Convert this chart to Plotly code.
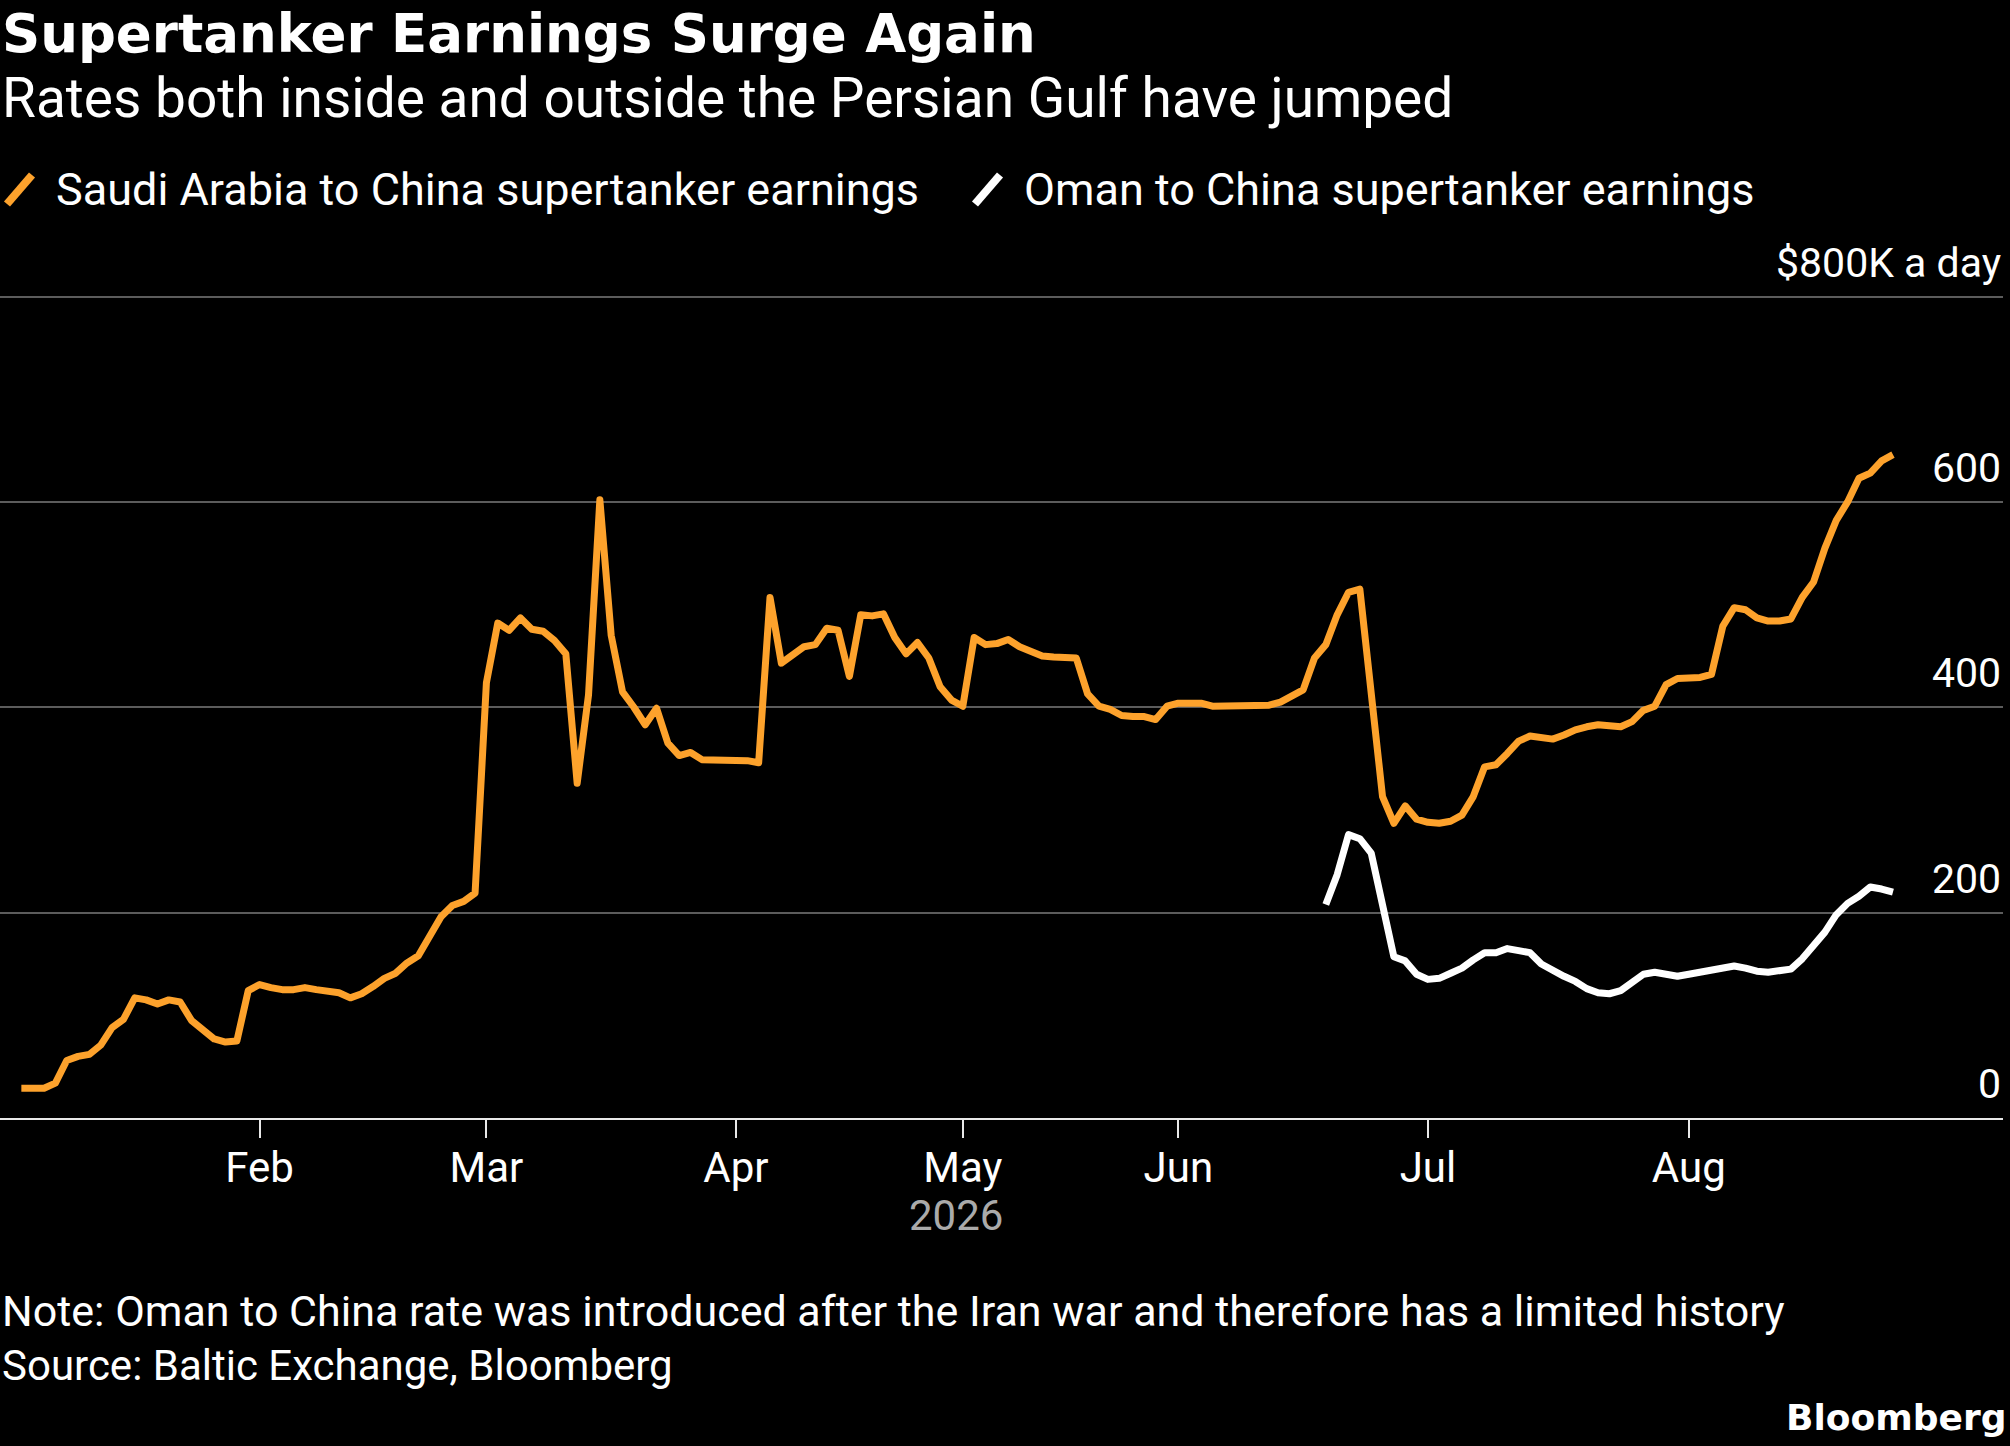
import pandas as pd
import plotly.graph_objects as go

# Baltic Exchange publishes on UK business days, the chart skips weekends and holidays
uk_holidays = ["2026-01-01", "2026-04-03", "2026-04-06", "2026-05-04", "2026-05-25", "2026-08-31"]
dates = pd.bdate_range("2026-01-02", "2026-08-27", freq="C", holidays=uk_holidays)

# Saudi Arabia to China, $K a day, one value per trading day
saudi_jan = [29, 29, 29, 34, 56, 60, 62, 71, 88, 96, 117, 115, 111, 115, 113, 95, 86, 77, 74, 75, 124]
saudi_feb = [130, 127, 125, 125, 127, 125, 123, 122, 117, 121, 128, 136, 141, 151, 158, 177, 196, 207, 211, 219]
saudi_mar = [424, 482, 475, 487, 476, 474, 465, 452, 326, 412, 602, 470, 415, 400, 383, 399, 365, 353, 356,
             349, 349, 349]
saudi_apr = [348, 348, 346, 507, 443, 450, 459, 461, 477, 475, 430, 490, 489, 491, 468, 452, 463, 448, 420, 407]
saudi_may = [401, 468, 461, 462, 466, 459, 455, 450, 449, 449, 448, 413, 401, 398, 392, 391, 391, 388, 401]
saudi_jun = [404, 404, 404, 401, 401, 401, 401, 402, 402, 405, 411, 417, 448, 461, 490, 512, 515, 414, 313, 287,
             304, 291]
saudi_jul = [288, 287, 289, 295, 313, 342, 344, 355, 367, 372, 370, 369, 373, 378, 381, 383, 382, 381, 386, 397,
             401, 422, 428]
saudi_aug = [429, 429, 432, 479, 497, 495, 487, 484, 484, 486, 507, 522, 555, 582, 600, 623, 628, 640, 646]

# Oman to China only starts on Jun 18
oman_start = "2026-06-18"
oman_jun = [208, 237, 276, 272, 258, 207, 157, 153, 140]
oman_jul = [135, 136, 141, 146, 154, 161, 161, 165, 163, 161, 150, 143, 138, 133, 126, 122, 121, 124, 132, 140,
            142, 140, 138]
oman_aug = [140, 142, 144, 146, 148, 146, 143, 142, 143, 145, 155, 169, 181, 198, 209, 216, 225, 223, 220]

saudi = saudi_jan + saudi_feb + saudi_mar + saudi_apr + saudi_may + saudi_jun + saudi_jul + saudi_aug
oman = oman_jun + oman_jul + oman_aug
oman_dates = dates[dates >= oman_start]

month_labels = ["Feb", "Mar", "Apr", "May", "Jun", "Jul", "Aug"]
month_ticks = dates.to_series().groupby(dates.month).first().iloc[1:]
y_ticks = [0, 200, 400, 600, 800]
y_labels = ["0", "200", "400", "600", "$800K a day"]

ORANGE = "#fda22c"
FONT = "Roboto"
BOLD = "DejaVu Sans"
W, H = 2010, 1446
ML, MR, MT, MB = 0, 7, 276, 328
PW, PH = W - ML - MR, H - MT - MB


def px(x):
    return (x - ML) / PW


def py(y):
    return (H - MB - y) / PH


fig = go.Figure()
fig.add_trace(go.Scatter(x=dates, y=saudi, mode="lines", name="Saudi Arabia to China supertanker earnings",
                         line=dict(color=ORANGE, width=7)))
fig.add_trace(go.Scatter(x=oman_dates, y=oman, mode="lines", name="Oman to China supertanker earnings",
                         line=dict(color="white", width=7)))

annotations = []
for v, lab in zip(y_ticks, y_labels):
    annotations.append(dict(x=1, xref="paper", xanchor="right", y=v, yref="y", yanchor="bottom", yshift=8,
                            text=lab, showarrow=False, font=dict(family=FONT, size=41, color="white")))

texts = [
    ("<b>Supertanker Earnings Surge Again</b>", 0, 33, "left", BOLD, 53, "white"),
    ("Rates both inside and outside the Persian Gulf have jumped", 0, 98, "left", FONT, 55, "white"),
    ("Saudi Arabia to China supertanker earnings", 54, 189, "left", FONT, 45, "white"),
    ("Oman to China supertanker earnings", 1022, 189, "left", FONT, 45, "white"),
    ("2026", 956, 1215, "center", FONT, 42, "#aaaaaa"),
    ("Note: Oman to China rate was introduced after the Iran war and therefore has a limited history",
     0, 1311, "left", FONT, 43, "white"),
    ("Source: Baltic Exchange, Bloomberg", 0, 1365, "left", FONT, 42, "white"),
    ("<b>Bloomberg</b>", W - 2, 1417, "right", BOLD, 36, "white"),
]
for t, x, y, anchor, family, size, color in texts:
    annotations.append(dict(x=px(x), xref="paper", xanchor=anchor, y=py(y), yref="paper", yanchor="middle",
                            text=t, showarrow=False, font=dict(family=family, size=size, color=color)))

# slanted legend keys
shapes = [
    dict(type="line", xref="paper", yref="paper", x0=px(7), y0=py(204), x1=px(32), y1=py(175),
         line=dict(color=ORANGE, width=8)),
    dict(type="line", xref="paper", yref="paper", x0=px(975), y0=py(204), x1=px(1000), y1=py(175),
         line=dict(color="white", width=8)),
]

fig.update_layout(
    width=W, height=H,
    margin=dict(l=ML, r=MR, t=MT, b=MB),
    paper_bgcolor="black", plot_bgcolor="black",
    showlegend=False,
    annotations=annotations,
    shapes=shapes,
    xaxis=dict(
        type="date",
        range=["2025-12-30 02:50", "2026-09-10 16:48"],
        rangebreaks=[dict(bounds=["sat", "mon"]), dict(values=uk_holidays)],
        tickvals=list(month_ticks), ticktext=month_labels,
        showgrid=False, zeroline=False,
        showline=True, linecolor="#e8e8e8", linewidth=2,
        ticks="outside", ticklen=18, tickwidth=2, tickcolor="#e8e8e8",
        ticklabelstandoff=-6,
        tickfont=dict(family=FONT, size=42, color="white"),
    ),
    yaxis=dict(
        range=[0, 820],
        tickvals=y_ticks[1:], showticklabels=False,
        showgrid=True, gridcolor="#5c5c5c", gridwidth=2,
        zeroline=False, showline=False,
    ),
)

# drop the page margin so the 2010x1446 figure fills the window, and round the line joins
post = ("document.body.style.margin='0';"
        "document.querySelectorAll('path.js-line').forEach(function(p){p.style.strokeLinejoin='round';});")
fig.write_html("out.html", post_script=post, config={"displayModeBar": False})
